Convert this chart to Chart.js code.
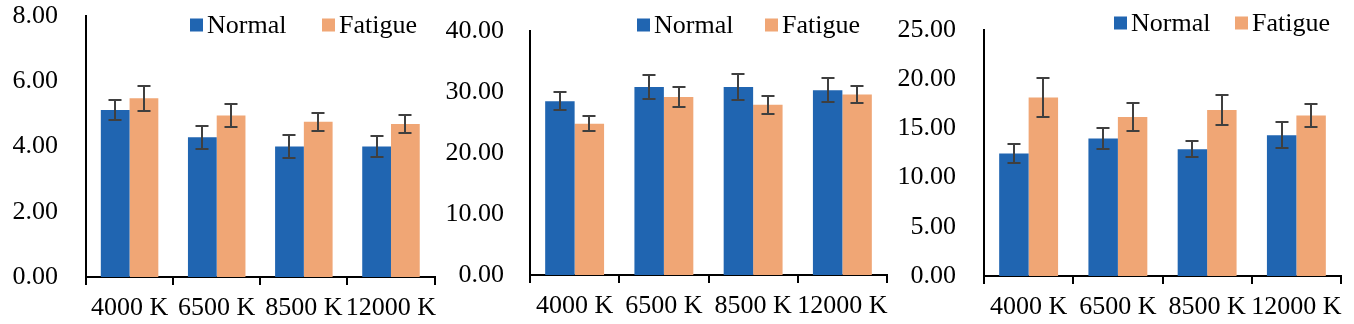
<!DOCTYPE html>
<html>
<head>
<meta charset="utf-8">
<script src="https://cdn.jsdelivr.net/npm/chart.js@4/dist/chart.umd.min.js"></script>
<style>
  html, body { margin: 0; padding: 0; background: #fff; }
  #wrap { position: relative; width: 1354px; height: 324px; overflow: hidden; background: #fff; }
  .panel { position: absolute; top: 0; height: 324px; }
  canvas { display: block; }
</style>
</head>
<body>
<div id="wrap">
  <div class="panel" style="left:0px;width:445px"><canvas id="c1" width="445" height="324"></canvas></div>
  <div class="panel" style="left:445px;width:452px"><canvas id="c2" width="452" height="324"></canvas></div>
  <div class="panel" style="left:897px;width:457px"><canvas id="c3" width="457" height="324"></canvas></div>
</div>
<script>
// Colour temperatures on the x axis
const categories = ['4000 K', '6500 K', '8500 K', '12000 K'];
const seriesNames = ['Normal', 'Fatigue'];

// Left panel: means and standard errors
const normalA = [5.12, 4.28, 4.00, 4.00];
const normalErrA = [0.31, 0.36, 0.35, 0.33];
const fatigueA = [5.48, 4.95, 4.76, 4.69];
const fatigueErrA = [0.38, 0.34, 0.28, 0.29];
const yTicksA = [0, 2, 4, 6, 8];

// Middle panel
const normalB = [28.5, 30.8, 30.8, 30.3];
const normalErrB = [1.5, 2.0, 2.1, 2.0];
const fatigueB = [24.8, 29.2, 27.9, 29.6];
const fatigueErrB = [1.2, 1.7, 1.5, 1.4];
const yTicksB = [0, 10, 20, 30, 40];

// Right panel
const normalC = [12.44, 13.97, 12.89, 14.31];
const normalErrC = [0.96, 1.05, 0.80, 1.30];
const fatigueC = [18.14, 16.17, 16.86, 16.31];
const fatigueErrC = [2.03, 1.43, 1.55, 1.15];
const yTicksC = [0, 5, 10, 15, 20, 25];

const BLUE = '#2065B1';
const ORANGE = '#F0A675';
const INK = '#000';
const FONT = { family: '"Liberation Serif", "Times New Roman", serif', size: 26 };

// Whiskers for each bar: mean ± error, with a short cap at both ends
const errorBars = {
  id: 'errorBars',
  afterDatasetsDraw(chart) {
    const ctx = chart.ctx;
    const y = chart.scales.y;
    ctx.save();
    ctx.strokeStyle = '#3f3f3f';
    ctx.lineWidth = 2;
    const cap = 6.5;
    chart.data.datasets.forEach((ds, i) => {
      const meta = chart.getDatasetMeta(i);
      meta.data.forEach((bar, j) => {
        const v = ds.data[j], e = ds.errors[j];
        const top = Math.round(y.getPixelForValue(v + e));
        const bot = Math.round(y.getPixelForValue(v - e));
        const x = Math.round(bar.x);
        ctx.beginPath();
        ctx.moveTo(x, top); ctx.lineTo(x, bot);
        ctx.moveTo(x - cap, top); ctx.lineTo(x + cap, top);
        ctx.moveTo(x - cap, bot); ctx.lineTo(x + cap, bot);
        ctx.stroke();
      });
    });
    ctx.restore();
  }
};

// Series key drawn inside the plot, square swatch followed by the name
const pairLegend = {
  id: 'pairLegend',
  afterDraw(chart, args, opts) {
    const ctx = chart.ctx;
    ctx.save();
    ctx.font = `${FONT.size}px ${FONT.family}`;
    ctx.textBaseline = 'middle';
    ctx.textAlign = 'left';
    chart.data.datasets.forEach((ds, i) => {
      const bx = opts.x[i];
      ctx.fillStyle = ds.backgroundColor;
      ctx.fillRect(bx, opts.y - opts.box / 2, opts.box, opts.box);
      ctx.fillStyle = INK;
      ctx.fillText(ds.label, bx + opts.box + 4, opts.y + 1);
    });
    ctx.restore();
  }
};

function makePanel(id, normal, normalErr, fatigue, fatigueErr, yTicks, geom) {
  const yMax = yTicks[yTicks.length - 1];
  const step = yTicks[1] - yTicks[0];
  return new Chart(document.getElementById(id), {
    type: 'bar',
    data: {
      labels: categories,
      datasets: [
        { label: seriesNames[0], data: normal, errors: normalErr, backgroundColor: BLUE,
          categoryPercentage: 0.66, barPercentage: 1.0 },
        { label: seriesNames[1], data: fatigue, errors: fatigueErr, backgroundColor: ORANGE,
          categoryPercentage: 0.66, barPercentage: 1.0 }
      ]
    },
    options: {
      responsive: false,
      animation: false,
      devicePixelRatio: 1,
      layout: { autoPadding: false, padding: { left: 0, right: geom.right, top: geom.top, bottom: 0 } },
      plugins: {
        legend: { display: false },
        tooltip: { enabled: false },
        pairLegend: geom.legend
      },
      scales: {
        x: {
          offset: true,
          grid: { display: true, offset: true, drawOnChartArea: false, drawTicks: true,
                  tickLength: 8, color: '#000', lineWidth: 2 },
          border: { display: true, color: '#000', width: 2 },
          ticks: { color: INK, font: FONT, padding: 8, maxRotation: 0, autoSkip: false },
          afterFit(s) { s.height = geom.xHeight; }
        },
        y: {
          min: 0, max: yMax,
          grid: { display: false, drawTicks: false },
          border: { display: true, color: '#000', width: 2 },
          ticks: { stepSize: step, color: INK, font: FONT, padding: geom.tickPad,
                   callback: v => Number(v).toFixed(2) },
          afterFit(s) {
            s.width = geom.yWidth;
            s.paddingTop = 0;
            s.paddingBottom = 0;
          }
        }
      }
    },
    plugins: [errorBars, pairLegend]
  });
}

makePanel('c1', normalA, normalErrA, fatigueA, fatigueErrA, yTicksA,
  { right: 7, top: 16, xHeight: 47, yWidth: 86, tickPad: 28,
    legend: { x: [190, 322], y: 25, box: 13 } });
makePanel('c2', normalB, normalErrB, fatigueB, fatigueErrB, yTicksB,
  { right: 10, top: 31, xHeight: 49, yWidth: 85, tickPad: 26,
    legend: { x: [192, 320], y: 25, box: 13 } });
makePanel('c3', normalC, normalErrC, fatigueC, fatigueErrC, yTicksC,
  { right: 13, top: 30, xHeight: 48, yWidth: 87, tickPad: 28,
    legend: { x: [217, 338], y: 23, box: 13 } });
</script>
</body>
</html>
